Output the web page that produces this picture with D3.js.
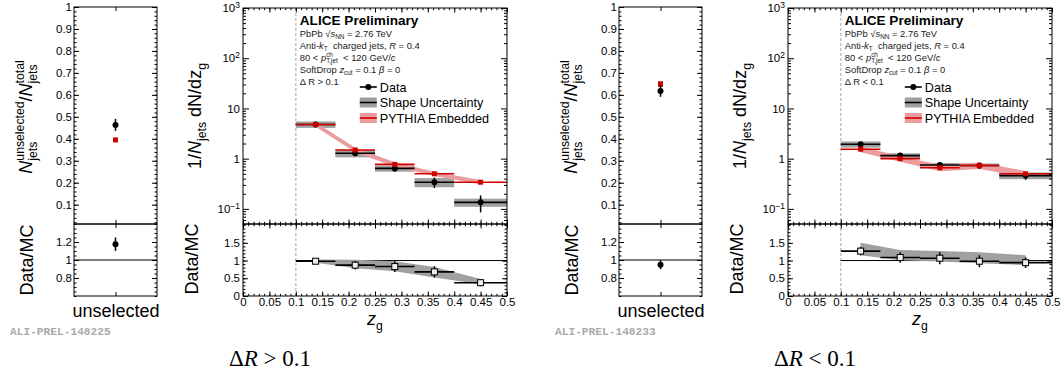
<!DOCTYPE html>
<html>
<head>
<meta charset="utf-8">
<script src="https://cdn.jsdelivr.net/npm/d3@7"></script>
<style>
  body { margin: 0; background: #fff; }
  svg { display: block; font-family: "Liberation Sans", Arial, sans-serif; }
  text { white-space: pre; }
</style>
</head>
<body>
<div id="app"></div>
<script>
// ---- data ----
const binEdges = [0.1, 0.175, 0.25, 0.325, 0.4, 0.5];
const binCenters = [0.1375, 0.2125, 0.2875, 0.3625, 0.45];
const categories = ["unselected"];

const zgTicks = [0, 0.05, 0.1, 0.15, 0.2, 0.25, 0.3, 0.35, 0.4, 0.45, 0.5];
const logTicks = [0.1, 1, 10, 100, 1000];
const logTickLabels = [["10", "\u22121"], ["1", ""], ["10", ""], ["10", "2"], ["10", "3"]];
const ratioTicks = [0, 0.5, 1, 1.5];
const fracTicks = [0.1, 0.2, 0.3, 0.4, 0.5, 0.6, 0.7, 0.8, 0.9, 1];
const unselRatioTicks = [0.8, 1, 1.2];

// ΔR > 0.1
const dataA = [4.8, 1.28, 0.64, 0.34, 0.135];
const dataErrA = [0.2, 0.1, 0.09, 0.08, 0.05];
const sysErrA = [0.7, 0.22, 0.09, 0.07, 0.025];
const pythiaA = [4.8, 1.49, 0.77, 0.5, 0.34];
const pythiaErrA = [0.5, 0.15, 0.08, 0.05, 0.035];
const ratioA = [0.98, 0.87, 0.83, 0.68, 0.375];
const ratioErrA = [0.02, 0.12, 0.15, 0.16, 0.1];
const ratioSysLoA = [0.94, 0.78, 0.7, 0.52, 0.33];
const ratioSysHiA = [1.03, 1.02, 0.98, 0.82, 0.48];
const unselDataA = [0.463, 0.027];
const unselPythiaA = [0.395, 0.004];
const unselRatioA = [1.175, 0.075];

// ΔR < 0.1
const dataB = [1.93, 1.15, 0.75, 0.73, 0.46];
const dataErrB = [0.15, 0.1, 0.1, 0.1, 0.08];
const sysErrB = [0.27, 0.13, 0.07, 0.07, 0.07];
const pythiaB = [1.54, 1.0, 0.66, 0.73, 0.5];
const pythiaErrB = [0.2, 0.13, 0.1, 0.11, 0.07];
const ratioB = [1.265, 1.085, 1.066, 0.98, 0.94];
const ratioErrB = [0.12, 0.15, 0.17, 0.17, 0.15];
const ratioSysLoB = [1.15, 1.01, 0.97, 0.92, 0.87];
const ratioSysHiB = [1.5, 1.3, 1.27, 1.23, 1.15];
const unselDataB = [0.618, 0.027];
const unselPythiaB = [0.649, 0.012];
const unselRatioB = [0.948, 0.05];

// ---- layout ----
const W = 1061, H = 378;
const yTopU = 7, yTopM = 8, ySplit = 224, yBot = 296;

const svg = d3.select("#app").append("svg").attr("width", W).attr("height", H);
svg.append("rect").attr("width", W).attr("height", H).attr("fill", "#fff");

// lays out pieces of text one after another, measuring each
function richText(parent, parts, opts) {
  const outer = parent.append("g").attr("transform", opts.transform);
  const g = outer.append("g");
  let cursor = 0, lastX = 0;
  parts.forEach(p => {
    const fs = p.sub || p.sup ? opts.fs * 0.68 : opts.fs;
    const dy = p.sub ? opts.fs * 0.3 : p.sup ? -opts.fs * 0.42 : 0;
    const x = p.stack ? lastX : cursor;
    const t = g.append("text")
      .attr("x", x).attr("y", dy)
      .attr("font-size", fs)
      .attr("font-style", p.it ? "italic" : null)
      .attr("font-weight", opts.bold ? "bold" : null)
      .attr("font-family", opts.family || null)
      .attr("fill", opts.fill || "#000")
      .text(p.t);
    const w = t.node().getComputedTextLength();
    lastX = x;
    cursor = Math.max(cursor, x + w);
  });
  const shift = opts.anchor === "middle" ? -cursor / 2 : opts.anchor === "end" ? -cursor : 0;
  g.attr("transform", `translate(${shift},0)`);
  return outer;
}

function styleAxis(sel, fs) {
  sel.select(".domain").remove();
  sel.attr("font-size", fs || 11.5).attr("font-family", null);
  sel.selectAll("line").attr("stroke", "#000");
  sel.selectAll("text").attr("fill", "#000");
}

function ticks(g, axis, transform, values, size, fmt, pad) {
  return g.append("g").attr("transform", transform)
    .call(axis.tickValues(values).tickSize(-size).tickPadding(pad || 3).tickFormat(fmt || (() => "")))
    .call(s => styleAxis(s));
}

const fmtNum = d => String(+d.toFixed(2));

function drawHalf(ox, S) {
  const g = svg.append("g");

  // ===== unselected panel =====
  const ux0 = 74 + ox, ux1 = 157 + ox;
  const xU = d3.scalePoint().domain(categories).range([ux0, ux1]).padding(0.5);
  const yU = d3.scaleLinear().domain([0.012, 1]).range([ySplit, yTopU]);
  const yUR = d3.scaleLinear().domain([0.6, 1.4]).range([yBot, ySplit]);

  g.append("rect").attr("x", ux0).attr("y", yTopU).attr("width", ux1 - ux0).attr("height", ySplit - yTopU)
    .attr("fill", "none").attr("stroke", "#000");
  g.append("rect").attr("x", ux0).attr("y", ySplit).attr("width", ux1 - ux0).attr("height", yBot - ySplit)
    .attr("fill", "none").attr("stroke", "#000");

  const fracMinor = d3.range(0.02, 1.001, 0.02);
  ticks(g, d3.axisLeft(yU), `translate(${ux0},0)`, fracTicks, 5, d => d === 1 ? "1" : d.toFixed(1), 2);
  ticks(g, d3.axisLeft(yU), `translate(${ux0},0)`, fracMinor, 2.5);
  ticks(g, d3.axisRight(yU), `translate(${ux1},0)`, fracTicks, 5);
  ticks(g, d3.axisRight(yU), `translate(${ux1},0)`, fracMinor, 2.5);

  const urMinor = d3.range(0.6, 1.401, 0.05);
  ticks(g, d3.axisLeft(yUR), `translate(${ux0},0)`, unselRatioTicks, 5, d => fmtNum(d), 2);
  ticks(g, d3.axisLeft(yUR), `translate(${ux0},0)`, urMinor, 2.5);
  ticks(g, d3.axisRight(yUR), `translate(${ux1},0)`, unselRatioTicks, 5);
  ticks(g, d3.axisRight(yUR), `translate(${ux1},0)`, urMinor, 2.5);

  ticks(g, d3.axisTop(xU), `translate(0,${yTopU})`, categories, 4);
  ticks(g, d3.axisBottom(xU), `translate(0,${ySplit})`, categories, 4);
  ticks(g, d3.axisTop(xU), `translate(0,${ySplit})`, categories, 4);
  g.append("g").attr("transform", `translate(0,${yBot})`)
    .call(d3.axisBottom(xU).tickSize(-4).tickPadding(8))
    .call(s => styleAxis(s, 18));

  // reference line at 1
  g.append("line").attr("x1", ux0).attr("x2", ux1).attr("y1", yUR(1)).attr("y2", yUR(1)).attr("stroke", "#000");

  const cx = xU(categories[0]);
  // pythia
  g.append("line").attr("x1", cx).attr("x2", cx)
    .attr("y1", yU(S.unselPy[0] - S.unselPy[1])).attr("y2", yU(S.unselPy[0] + S.unselPy[1]))
    .attr("stroke", "#cc0000").attr("stroke-width", 5);
  g.append("rect").attr("x", cx - 2.5).attr("y", yU(S.unselPy[0]) - 2.5).attr("width", 5).attr("height", 5)
    .attr("fill", "#cc0000");
  // data
  g.append("line").attr("x1", cx).attr("x2", cx)
    .attr("y1", yU(S.unselData[0] - S.unselData[1])).attr("y2", yU(S.unselData[0] + S.unselData[1]))
    .attr("stroke", "#000").attr("stroke-width", 1.5);
  g.append("circle").attr("cx", cx).attr("cy", yU(S.unselData[0])).attr("r", 3);
  g.append("line").attr("x1", cx).attr("x2", cx)
    .attr("y1", yUR(S.unselRatio[0] - S.unselRatio[1])).attr("y2", yUR(S.unselRatio[0] + S.unselRatio[1]))
    .attr("stroke", "#000").attr("stroke-width", 1.5);
  g.append("circle").attr("cx", cx).attr("cy", yUR(S.unselRatio[0])).attr("r", 3);

  richText(g, [{ t: "N", it: true }, { t: "unselected", sup: true }, { t: "jets", sub: true, stack: true },
    { t: "/" }, { t: "N", it: true }, { t: "total", sup: true }, { t: "jets", sub: true, stack: true }],
    { transform: `translate(${ox + 32},117) rotate(-90)`, fs: 18, anchor: "middle" });
  richText(g, [{ t: "Data/MC" }], { transform: `translate(${ox + 33},260) rotate(-90)`, fs: 18, anchor: "middle" });

  g.append("text").attr("x", ox + 10).attr("y", 335).attr("font-family", "Liberation Mono, monospace")
    .attr("font-weight", "bold").attr("font-size", 11.2).attr("fill", "#aaaaaa").text(S.tag);

  // ===== main panel =====
  const mx0 = 243 + ox, mx1 = 507 + ox;
  const xM = d3.scaleLinear().domain([0, 0.5]).range([mx0, mx1]);
  const yM = d3.scaleLog().domain([0.05, 1000]).range([ySplit, yTopM]);
  const yR = d3.scaleLinear().domain([0, 2.03]).range([yBot, ySplit]);
  const idx = d3.range(binCenters.length);

  // dashed line at zg = 0.1
  g.append("line").attr("x1", xM(0.1)).attr("x2", xM(0.1)).attr("y1", yTopM).attr("y2", yBot)
    .attr("stroke", "#c4c4c4").attr("stroke-width", 1.5).attr("stroke-dasharray", "3,2");

  // top pane: systematics boxes
  g.selectAll(null).data(idx).join("rect")
    .attr("x", i => xM(binEdges[i])).attr("width", i => xM(binEdges[i + 1]) - xM(binEdges[i]))
    .attr("y", i => yM(S.data[i] + S.sys[i]))
    .attr("height", i => yM(S.data[i] - S.sys[i]) - yM(S.data[i] + S.sys[i]))
    .attr("fill", "#a0a0a0");
  // PYTHIA band
  g.append("path").datum(idx)
    .attr("d", d3.area().x(i => xM(binCenters[i]))
      .y0(i => yM(S.py[i] - S.pyErr[i])).y1(i => yM(S.py[i] + S.pyErr[i])))
    .attr("fill", "#eb9c9c");
  // data
  g.selectAll(null).data(idx).join("line")
    .attr("x1", i => xM(binEdges[i])).attr("x2", i => xM(binEdges[i + 1]))
    .attr("y1", i => yM(S.data[i])).attr("y2", i => yM(S.data[i]))
    .attr("stroke", "#000").attr("stroke-width", 1.6);
  g.selectAll(null).data(idx).join("line")
    .attr("x1", i => xM(binCenters[i])).attr("x2", i => xM(binCenters[i]))
    .attr("y1", i => yM(S.data[i] - S.dataErr[i])).attr("y2", i => yM(S.data[i] + S.dataErr[i]))
    .attr("stroke", "#000").attr("stroke-width", 1.5);
  g.selectAll(null).data(idx).join("circle")
    .attr("cx", i => xM(binCenters[i])).attr("cy", i => yM(S.data[i])).attr("r", 3);
  // pythia points
  g.selectAll(null).data(idx).join("line")
    .attr("x1", i => xM(binEdges[i])).attr("x2", i => xM(binEdges[i + 1]))
    .attr("y1", i => yM(S.py[i])).attr("y2", i => yM(S.py[i]))
    .attr("stroke", "#d40000").attr("stroke-width", 1.6);
  g.selectAll(null).data(idx).join("rect")
    .attr("x", i => xM(binCenters[i]) - 2.5).attr("y", i => yM(S.py[i]) - 2.5)
    .attr("width", 5).attr("height", 5).attr("fill", "#cc0000");

  // bottom pane
  g.append("line").attr("x1", xM(0.1)).attr("x2", xM(0.5)).attr("y1", yR(1)).attr("y2", yR(1))
    .attr("stroke", "#000");
  g.append("path").datum(idx)
    .attr("d", d3.area().x(i => xM(binCenters[i]))
      .y0(i => yR(S.rLo[i])).y1(i => yR(S.rHi[i])))
    .attr("fill", "#a0a0a0");
  g.selectAll(null).data(idx).join("line")
    .attr("x1", i => xM(binEdges[i])).attr("x2", i => xM(binEdges[i + 1]))
    .attr("y1", i => yR(S.ratio[i])).attr("y2", i => yR(S.ratio[i]))
    .attr("stroke", "#000").attr("stroke-width", 1.6);
  g.selectAll(null).data(idx).join("line")
    .attr("x1", i => xM(binCenters[i])).attr("x2", i => xM(binCenters[i]))
    .attr("y1", i => yR(S.ratio[i] - S.rErr[i])).attr("y2", i => yR(S.ratio[i] + S.rErr[i]))
    .attr("stroke", "#000").attr("stroke-width", 1.5);
  g.selectAll(null).data(idx).join("rect")
    .attr("x", i => xM(binCenters[i]) - 3).attr("y", i => yR(S.ratio[i]) - 3)
    .attr("width", 6).attr("height", 6).attr("fill", "#eeeeee").attr("stroke", "#000");

  // frames
  g.append("rect").attr("x", mx0).attr("y", yTopM).attr("width", mx1 - mx0).attr("height", ySplit - yTopM)
    .attr("fill", "none").attr("stroke", "#000");
  g.append("rect").attr("x", mx0).attr("y", ySplit).attr("width", mx1 - mx0).attr("height", yBot - ySplit)
    .attr("fill", "none").attr("stroke", "#000");

  // axes
  const logMinor = [];
  [0.01, 0.1, 1, 10, 100].forEach(d => d3.range(2, 10).forEach(m => {
    const v = d * m;
    if (v >= 0.05 && v <= 1000) logMinor.push(v);
  }));
  const ly = ticks(g, d3.axisLeft(yM), `translate(${mx0},0)`, logTicks, 6, () => "", 3);
  ly.selectAll(".tick text").each(function (d) {
    const lab = logTickLabels[logTicks.indexOf(d)];
    const t = d3.select(this).text(lab[0]);
    if (lab[1]) t.append("tspan").attr("dy", "-0.5em").attr("font-size", 8.5).text(lab[1]);
  });
  ticks(g, d3.axisLeft(yM), `translate(${mx0},0)`, logMinor, 3);
  ticks(g, d3.axisRight(yM), `translate(${mx1},0)`, logTicks, 6);
  ticks(g, d3.axisRight(yM), `translate(${mx1},0)`, logMinor, 3);

  const rMinor = d3.range(0, 2.01, 0.1);
  ticks(g, d3.axisLeft(yR), `translate(${mx0},0)`, ratioTicks, 5, fmtNum, 3);
  ticks(g, d3.axisLeft(yR), `translate(${mx0},0)`, rMinor, 2.5);
  ticks(g, d3.axisRight(yR), `translate(${mx1},0)`, ratioTicks, 5);
  ticks(g, d3.axisRight(yR), `translate(${mx1},0)`, rMinor, 2.5);

  const zMinor = d3.range(0, 0.5001, 0.01);
  [[d3.axisTop, yTopM], [d3.axisBottom, ySplit], [d3.axisTop, ySplit]].forEach(([ax, y]) => {
    ticks(g, ax(xM), `translate(0,${y})`, zgTicks, 4.5);
    ticks(g, ax(xM), `translate(0,${y})`, zMinor, 2.2);
  });
  ticks(g, d3.axisBottom(xM), `translate(0,${yBot})`, zgTicks, 4.5, fmtNum, 2);
  ticks(g, d3.axisBottom(xM), `translate(0,${yBot})`, zMinor, 2.2);

  // titles
  richText(g, [{ t: "1/" }, { t: "N", it: true }, { t: "jets", sub: true }, { t: " dN/dz" }, { t: "g", sub: true }],
    { transform: `translate(${ox + 201},116) rotate(-90)`, fs: 18, anchor: "middle" });
  richText(g, [{ t: "Data/MC" }], { transform: `translate(${ox + 198},259) rotate(-90)`, fs: 18, anchor: "middle" });
  richText(g, [{ t: "z", it: true }, { t: "g", sub: true }],
    { transform: `translate(${(mx0 + mx1) / 2},325)`, fs: 18, anchor: "middle" });

  // annotation
  const ax0 = xM(0.1) + 4;
  richText(g, [{ t: "ALICE Preliminary" }], { transform: `translate(${ax0},25)`, fs: 13.6, bold: true });
  const notes = [
    [{ t: "PbPb " }, { t: "\u221A" }, { t: "s", it: true }, { t: "NN", sub: true }, { t: " = 2.76 TeV" }],
    [{ t: "Anti-" }, { t: "k", it: true }, { t: "T", sub: true }, { t: "  charged jets, " }, { t: "R", it: true }, { t: " = 0.4" }],
    [{ t: "80 < " }, { t: "p", it: true }, { t: "ch", sup: true }, { t: "T,jet", sub: true, stack: true }, { t: "  < 120 GeV/" }, { t: "c", it: true }],
    [{ t: "SoftDrop " }, { t: "z", it: true }, { t: "cut", sub: true }, { t: " = 0.1 " }, { t: "\u03B2", it: true }, { t: " = 0" }],
    [{ t: S.cut }]
  ];
  notes.forEach((parts, k) => {
    richText(g, parts, { transform: `translate(${ax0},${36.5 + k * 12})`, fs: 9.4, fill: "#222" });
  });

  // legend
  const lx = xM(0.1) + 64, lw = 17;
  g.append("line").attr("x1", lx).attr("x2", lx + lw).attr("y1", 87).attr("y2", 87).attr("stroke", "#000").attr("stroke-width", 1.6);
  g.append("circle").attr("cx", lx + lw / 2).attr("cy", 87).attr("r", 3);
  g.append("rect").attr("x", lx).attr("y", 97.5).attr("width", lw).attr("height", 10).attr("fill", "#a0a0a0");
  g.append("line").attr("x1", lx).attr("x2", lx + lw).attr("y1", 102.5).attr("y2", 102.5).attr("stroke", "#000").attr("stroke-width", 1.6);
  g.append("rect").attr("x", lx).attr("y", 113).attr("width", lw).attr("height", 10).attr("fill", "#eb9c9c");
  g.append("line").attr("x1", lx).attr("x2", lx + lw).attr("y1", 118).attr("y2", 118).attr("stroke", "#d40000").attr("stroke-width", 1.6);
  ["Data", "Shape Uncertainty", "PYTHIA Embedded"].forEach((t, k) => {
    g.append("text").attr("x", lx + 20).attr("y", [91.5, 107, 122.5][k]).attr("font-size", 12.6).text(t);
  });

  // bottom caption
  richText(g, [{ t: "\u0394" }, { t: "R", it: true }, { t: S.caption }],
    { transform: `translate(${ox + 270},366)`, fs: 23, anchor: "middle", family: "Liberation Serif, Times New Roman, serif" });
}

drawHalf(0, {
  data: dataA, dataErr: dataErrA, sys: sysErrA, py: pythiaA, pyErr: pythiaErrA,
  ratio: ratioA, rErr: ratioErrA, rLo: ratioSysLoA, rHi: ratioSysHiA,
  unselData: unselDataA, unselPy: unselPythiaA, unselRatio: unselRatioA,
  tag: "ALI-PREL-148225", cut: "\u0394 R > 0.1", caption: " > 0.1"
});
drawHalf(545, {
  data: dataB, dataErr: dataErrB, sys: sysErrB, py: pythiaB, pyErr: pythiaErrB,
  ratio: ratioB, rErr: ratioErrB, rLo: ratioSysLoB, rHi: ratioSysHiB,
  unselData: unselDataB, unselPy: unselPythiaB, unselRatio: unselRatioB,
  tag: "ALI-PREL-148233", cut: "\u0394 R < 0.1", caption: " < 0.1"
});
</script>
</body>
</html>
